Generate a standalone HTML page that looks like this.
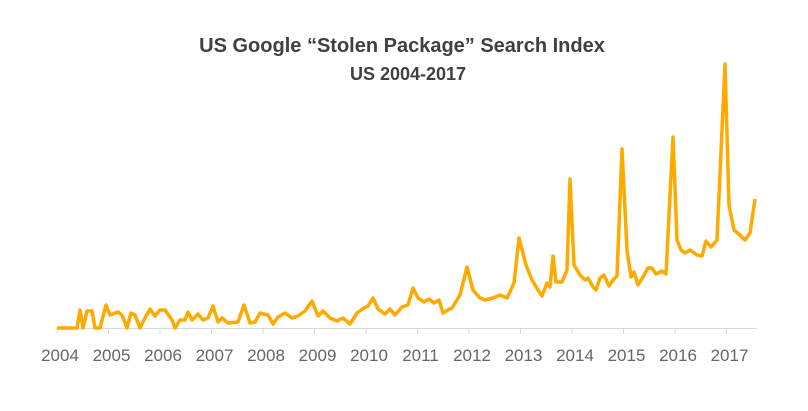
<!DOCTYPE html>
<html><head><meta charset="utf-8"><style>
body{margin:0;background:#fff;}
svg{display:block;font-family:"Liberation Sans",sans-serif;}
</style></head><body>
<svg width="808" height="411" viewBox="0 0 808 411">
<text x="402" y="52" text-anchor="middle" font-size="20" font-weight="bold" fill="#404040">US Google “Stolen Package” Search Index</text>
<text x="408" y="80" text-anchor="middle" font-size="18" font-weight="bold" fill="#404040">US 2004-2017</text>
<line x1="57" y1="328.5" x2="757" y2="328.5" stroke="#d9d9d9" stroke-width="1"/>
<g stroke="#d9d9d9" stroke-width="1">
<line x1="57" y1="328" x2="57" y2="334"/><line x1="108.5" y1="328" x2="108.5" y2="334"/><line x1="160" y1="328" x2="160" y2="334"/><line x1="211.5" y1="328" x2="211.5" y2="334"/><line x1="263" y1="328" x2="263" y2="334"/><line x1="314.5" y1="328" x2="314.5" y2="334"/><line x1="366" y1="328" x2="366" y2="334"/><line x1="417.5" y1="328" x2="417.5" y2="334"/><line x1="469" y1="328" x2="469" y2="334"/><line x1="520.5" y1="328" x2="520.5" y2="334"/><line x1="572" y1="328" x2="572" y2="334"/><line x1="623.5" y1="328" x2="623.5" y2="334"/><line x1="675" y1="328" x2="675" y2="334"/><line x1="726.5" y1="328" x2="726.5" y2="334"/>
</g>
<g font-size="17" fill="#666666" text-anchor="middle">
<text x="60" y="361">2004</text><text x="111.5" y="361">2005</text><text x="163" y="361">2006</text><text x="214.5" y="361">2007</text><text x="266" y="361">2008</text><text x="317.5" y="361">2009</text><text x="369" y="361">2010</text><text x="420.5" y="361">2011</text><text x="472" y="361">2012</text><text x="523.5" y="361">2013</text><text x="575" y="361">2014</text><text x="626.5" y="361">2015</text><text x="678" y="361">2016</text><text x="729.5" y="361">2017</text>
</g>
<polyline fill="none" stroke="#FFAA00" stroke-width="3.5" stroke-linejoin="round" points="57,328 77,328 80,310 83,328 87,311 92,311 95,328 100,328 106,305 110,315 118,312 122,315 127,328 131,313 135,315 140,328 145,318 150,309 155,316 160,310 165,310 172,320 175,328 180,320 185,320 188,312 192,320 198,314 203,320 208,318 213,306 218,322 222,318 228,323 238,322 244,305 250,323 255,322 260,313 268,315 273,324 278,317 285,313 292,318 298,316 305,311 312,301 318,316 323,311 330,318 337,321 343,318 350,324 357,313 364,308 368,306 373,298 378,309 385,314 390,309 395,315 402,307 408,305 413,288 418,298 424,302 429,299 434,303 439,300 443,313 448,310 452,308 460,295 467,267 473,290 480,298 485,300 493,298 500,295 507,298 514,283 519,238 526,265 532,280 538,290 542,296 547,283 550,287 553,256 556,282 562,282 567,270 570,179 574,265 580,275 585,280 588,278 593,287 596,290 600,278 604,275 609,286 613,280 617,276 622,149 627,250 631,277 634,272 638,285 643,277 648,268 652,268 656,274 662,271 666,274 673,137 677,240 681,250 685,253 690,250 697,255 702,256 706,241 711,247 717,240 725,64 729,205 734,230 740,235 745,240 750,233 755,199"/>
</svg>
</body></html>
